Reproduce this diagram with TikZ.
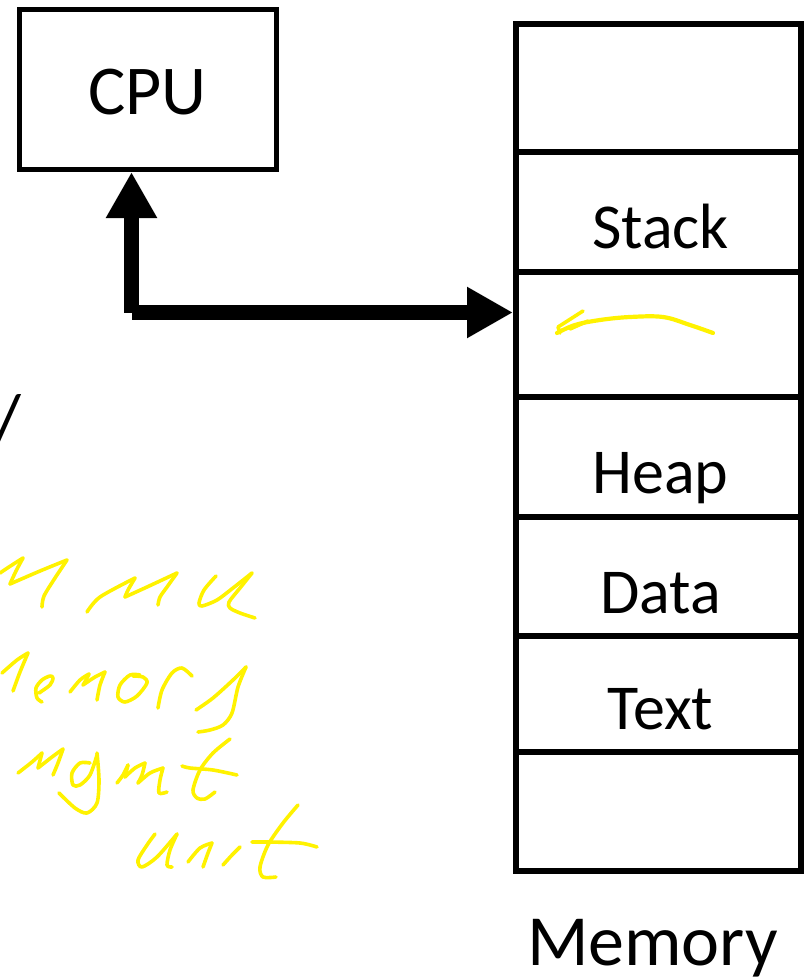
\documentclass[tikz,border=0pt]{standalone}
\usepackage{fontspec}
\setmainfont{Carlito}
\usetikzlibrary{arrows.meta}
\begin{document}
\begin{tikzpicture}[x=1pt,y=-1pt,
  box/.style={draw, line width=5pt, minimum width=257pt, minimum height=160pt, inner sep=0pt},
  cell/.style={draw, line width=6pt, minimum width=285pt, inner sep=0pt},
  lbl/.style={anchor=base, inner sep=0pt, font=\fontsize{64}{70}\selectfont},
  big/.style={anchor=base, inner sep=0pt, font=\fontsize{72}{80}\selectfont},
  bus/.style={line width=14.5pt, -{Triangle[length=46pt,width=48pt]}},
  hand/.style={draw=yellow, line width=3.6pt, line cap=round, line join=round},
  pen/.style={hand, smooth, tension=0.5}]
\useasboundingbox (0,0) rectangle (806,977);

% processor
\node[box] (cpu) at (148,89.5) {};
\node[anchor=base, inner sep=0pt, font=\fontsize{70}{78}\selectfont] (cpulbl) at (147.5,114) {CPU};

% memory layout, top to bottom
\node[cell, minimum height=128pt]   (top)   at (658.5,88) {};
\node[cell, minimum height=119.5pt] (stack) at (658.5,211.75) {};
\node[cell, minimum height=125.5pt] (free)  at (658.5,334.25) {};
\node[cell, minimum height=119.5pt] (heap)  at (658.5,456.75) {};
\node[cell, minimum height=119.5pt] (data)  at (658.5,576.25) {};
\node[cell, minimum height=116pt]   (text)  at (658.5,694) {};
\node[cell, minimum height=119pt]   (bot)   at (658.5,811.5) {};

\node[lbl] (stacklbl) at ([xshift=2pt,yshift=26pt]stack.south) {Stack};
\node[lbl] (heaplbl)  at ([xshift=2pt,yshift=26pt]heap.south) {Heap};
\node[lbl] (datalbl)  at ([xshift=2pt,yshift=26pt]data.south) {Data};
\node[lbl] (textlbl)  at ([xshift=2pt,yshift=26pt]text.south) {Text};
\node[big] (memlbl)   at (652.5,965) {Memory};

% bus between processor and memory
\coordinate (bend) at (131.5,312.5);
\draw[bus] (bend) -- (bend |- cpu.south);
\draw[bus] (bend) -- (free.west |- bend);

% slash cut by the left edge
\node[big, anchor=base west] (slash) at (-7,444) {/};

% handwritten notes
\draw[hand, line width=4.2pt] plot[smooth, tension=0.6] coordinates {(713,333) (690,325) (663,317) (630,317) (600,320) (575,325) (557,333)};
\draw[hand] (583,311) -- (558,327) -- (560,333);
\draw[hand] (588,321) -- (570,329);

% "MMU"
\draw[pen] plot coordinates {(0,573) (12,565) (23,558)};
\draw[pen] plot coordinates {(23,558) (16,571) (10,584)};
\draw[pen] plot coordinates {(10,584) (40,571) (67,560)};
\draw[pen] plot coordinates {(67,560) (55,578) (44,596) (42,607)};
\draw[pen] plot coordinates {(87,612) (100,597) (135,578)};
\draw[pen] plot coordinates {(135,578) (128,590) (125,597)};
\draw[pen] plot coordinates {(125,597) (147,587) (177,573)};
\draw[pen] plot coordinates {(177,573) (167,587) (160,597) (158,605)};
\draw[pen] plot coordinates {(216,576) (204,590) (199,603) (202,606) (217,600) (233,588) (252,573)};
\draw[pen] plot coordinates {(252,573) (240,588) (229,602) (230,608) (240,613) (255,618)};

% "memory"
\draw[pen] plot coordinates {(2,673) (17,660) (28,653)};
\draw[pen] plot coordinates {(28,653) (20,672) (13,691)};
\draw[pen] plot coordinates {(39,693) (50,685) (53,678) (50,676) (42,680) (36,688) (37,698) (42,702)};
\draw[pen] plot coordinates {(70,692) (80,680) (89,674)};
\draw[pen] plot coordinates {(89,674) (86,680) (83,685)};
\draw[pen] plot coordinates {(83,685) (95,677) (105,672)};
\draw[pen] plot coordinates {(105,672) (100,685) (97,700)};
\draw[pen] plot coordinates {(140,675) (130,675) (120,685) (118,697) (125,702) (137,696) (147,683) (143,677) (133,676)};
\draw[pen] plot coordinates {(158,708) (162,690) (172,673) (182,668) (192,676)};
\draw[pen] plot coordinates {(196,710) (213,698) (233,680) (246,667)};
\draw[pen] plot coordinates {(246,667) (238,687) (232,713) (223,725) (210,730) (198,732)};

% "mgmt"
\draw[pen] plot coordinates {(18,773) (32,762) (42,753)};
\draw[pen] plot coordinates {(42,753) (38,768)};
\draw[pen] plot coordinates {(38,768) (52,757) (63,749)};
\draw[pen] plot coordinates {(63,749) (58,763) (53,775)};
\draw[pen] plot coordinates {(90,763) (80,763) (72,773) (73,785) (80,785) (90,775) (97,755)};
\draw[pen] plot coordinates {(97,753) (99,780) (97,803) (87,813) (75,808) (59,793)};
\draw[pen] plot coordinates {(117,783) (123,775) (128,765)};
\draw[pen] plot coordinates {(128,765) (125,777)};
\draw[pen] plot coordinates {(125,777) (135,768) (145,763)};
\draw[pen] plot coordinates {(145,763) (142,775) (138,783)};
\draw[pen] plot coordinates {(138,783) (150,773) (163,768)};
\draw[pen] plot coordinates {(163,768) (160,780) (159,793) (167,792)};
\draw[pen] plot coordinates {(230,739) (213,753) (200,770) (193,790) (197,798) (205,799) (215,792)};
\draw[pen] plot coordinates {(182,766) (190,768) (213,770) (237,775)};

% "unit"
\draw[pen] plot coordinates {(155,834) (147,845) (138,860) (142,867) (157,857) (177,834)};
\draw[pen] plot coordinates {(177,834) (170,850) (167,865) (172,867)};
\draw[pen] plot coordinates {(188,862) (200,848) (212,843)};
\draw[pen] plot coordinates {(212,843) (208,853) (203,867)};
\draw[pen] plot coordinates {(223,865) (232,855) (240,847)};
\draw[pen] plot coordinates {(298,805) (283,823) (268,845) (260,867) (263,877) (276,877)};
\draw[pen] plot coordinates {(252,842) (267,842) (300,843) (317,847)};
\end{tikzpicture}
\end{document}
